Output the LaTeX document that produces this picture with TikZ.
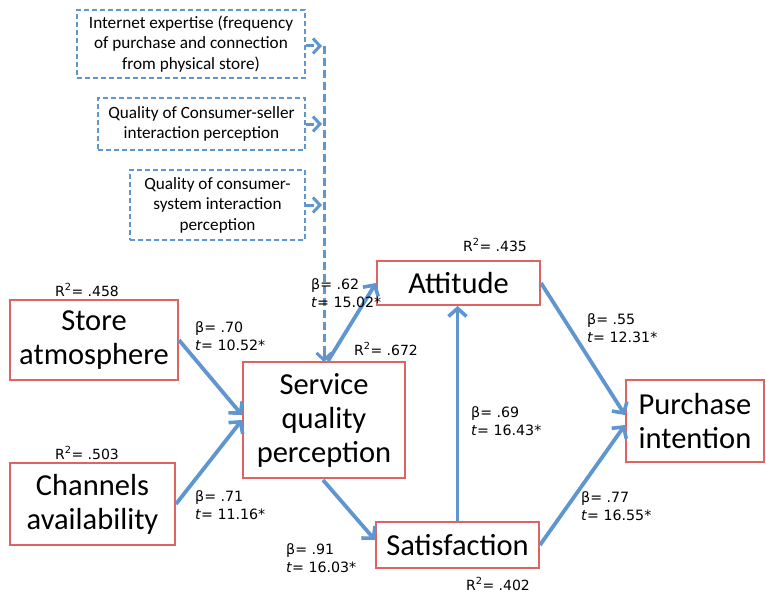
\documentclass[tikz,border=0pt]{standalone}
\usepackage{fontspec}
\setmainfont{Carlito}
\newfontfamily\lab{DejaVu Sans}
\usetikzlibrary{arrows.meta,calc}
\definecolor{boxred}{RGB}{222,100,100}
\definecolor{arrblue}{RGB}{96,150,208}
\tikzset{
  construct/.style={draw=boxred,line width=2pt,fill=white,align=center,inner sep=0pt,
    font=\fontsize{30.5}{34}\selectfont},
  modbox/.style={draw=arrblue,line width=1.8pt,dash pattern=on 5pt off 3pt,align=center,inner sep=0pt,
    font=\fontsize{17.2}{20.5}\selectfont},
  patharrow/.style={draw=arrblue,line width=3.8pt,-{Straight Barb[length=8pt,width=18pt,line width=3.6pt]}},
  modarrow/.style={draw=arrblue,line width=3pt,dash pattern=on 8pt off 4pt,-{Straight Barb[length=7pt,width=15pt,line width=3pt]}},
  coef/.style={align=left,inner sep=0pt,anchor=west,font=\lab\fontsize{14.2}{17.5}\selectfont},
  rsq/.style={inner sep=0pt,font=\lab\fontsize{14}{17}\selectfont}
}
\begin{document}
\begin{tikzpicture}[x=1pt,y=-1pt]
\useasboundingbox (0,0) rectangle (766,594);
% moderator boxes
\node[modbox,minimum width=228pt,minimum height=68pt] (inet) at (191,44) {Internet expertise (frequency\\of purchase and connection\\from physical store)};
\node[modbox,minimum width=207pt,minimum height=52pt] (qcs) at (201.5,124) {Quality of Consumer-seller\\interaction perception};
\node[modbox,minimum width=175pt,minimum height=70pt] (qsys) at (217.5,205) {Quality of consumer-\\system interaction\\perception};
% constructs
\node[construct,minimum width=168pt,minimum height=80pt] (store) at (94,340) {Store\\atmosphere};
\node[construct,minimum width=165pt,minimum height=82pt] (chan) at (92.5,504) {Channels\\availability};
\node[construct,minimum width=162pt,minimum height=116pt] (sqp) at (324,420) {Service\\quality\\perception};
\node[construct,minimum width=163pt,minimum height=44pt] (att) at (458.5,283) {Attitude};
\node[construct,minimum width=163pt,minimum height=46pt] (sat) at (457.5,545) {Satisfaction};
\node[construct,minimum width=138pt,minimum height=82pt] (pi) at (695,421) {Purchase\\intention};
% moderator line
\coordinate (vtop) at (324,46);
\coordinate (vbot) at (324,362);
\draw[draw=arrblue,line width=3pt,dash pattern=on 8pt off 4pt] (vtop) -- ($(vbot)+(0,-12)$);
\draw[modarrow] ($(vbot)+(0,-12)$) -- (vbot);
\draw[modarrow] (inet.east |- vtop) -- ($(vtop)+(-2,0)$);
\draw[modarrow] (qcs.east) -- ($(qcs.east -| vtop)+(-2,0)$);
\draw[modarrow] (qsys.east) -- ($(qsys.east -| vtop)+(-2,0)$);
% paths
\draw[patharrow] (store.east) -- ($(sqp.west)+(0,-5)$);
\draw[patharrow] (chan.east) -- (sqp.west);
\draw[patharrow] ($(sqp.north)+(4,0)$) -- (att.west);
\draw[patharrow] ($(sqp.south)+(-1,1)$) -- ($(sat.west)+(0,-5)$);
\draw[patharrow] (sat.north) -- (sat.north |- att.south);
\draw[patharrow] (att.east) -- ($(pi.west)+(0,-6)$);
\draw[patharrow] (sat.east) -- ($(pi.west)+(0,4)$);
% coefficients
\node[rsq] (r1) at (87,290) {R\textsuperscript{2}= .458};
\node[rsq] (r2) at (87,453) {R\textsuperscript{2}= .503};
\node[rsq] (r3) at (386,349) {R\textsuperscript{2}= .672};
\node[rsq] (r4) at (495,245) {R\textsuperscript{2}= .435};
\node[rsq] (r5) at (498,584) {R\textsuperscript{2}= .402};
\node[coef] (c1) at (195,336) {β= .70\\\textit{t}= 10.52*};
\node[coef] (c2) at (195,505) {β= .71\\\textit{t}= 11.16*};
\node[coef] (c3) at (311,293) {β= .62\\\textit{t}= 15.02*};
\node[coef] (c4) at (587,328) {β= .55\\\textit{t}= 12.31*};
\node[coef] (c5) at (471,421) {β= .69\\\textit{t}= 16.43*};
\node[coef] (c6) at (581,506) {β= .77\\\textit{t}= 16.55*};
\node[coef] (c7) at (286,558) {β= .91\\\textit{t}= 16.03*};
\end{tikzpicture}
\end{document}
